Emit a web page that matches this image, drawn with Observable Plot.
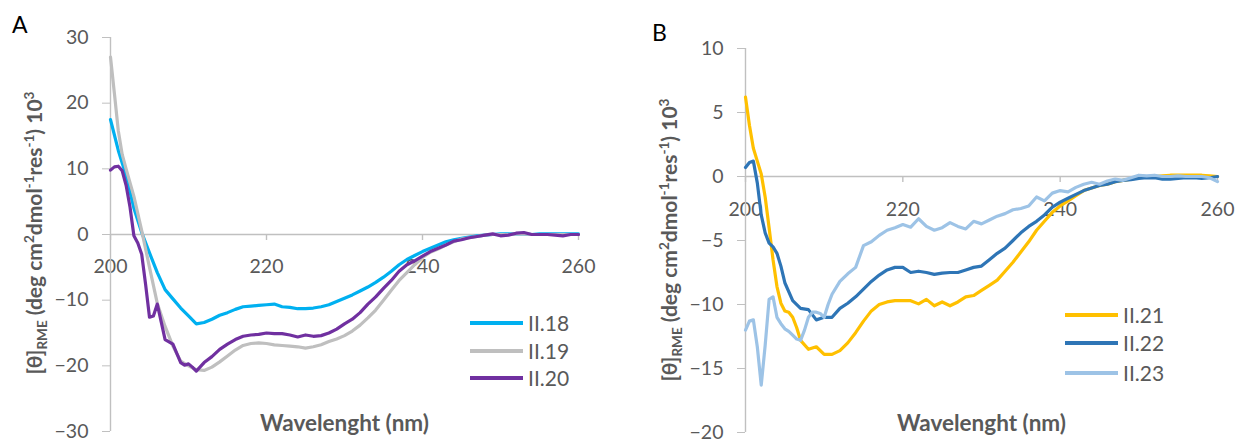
<!DOCTYPE html>
<html><head><meta charset="utf-8">
<script src="https://cdn.jsdelivr.net/npm/d3@7"></script>
<script src="https://cdn.jsdelivr.net/npm/@observablehq/plot@0.6"></script>
<style>
body{margin:0;background:#fff;}
#wrap{position:relative;width:1236px;height:441px;overflow:hidden;background:#fff;}
.panel{position:absolute;top:0;width:618px;height:441px;}
</style></head><body><div id="wrap"><div class="panel" id="pa" style="left:0"></div><div class="panel" id="pb" style="left:618px"></div></div>
<script>
// ---------- data ----------
const xTicks = [200, 220, 240, 260];
const yTicksA = [-30, -20, -10, 0, 10, 20, 30];
const yTicksB = [-20, -15, -10, -5, 0, 5, 10];
const namesA = ["II.18", "II.19", "II.20"];
const colorsA = ["#00b0f0", "#bfbfbf", "#7030a0"];
const namesB = ["II.21", "II.22", "II.23"];
const colorsB = ["#ffc000", "#2e75b6", "#9dc3e6"];
const xTitle = "Wavelenght (nm)";

const wl18 = d3.range(200, 261);
const ii18 = [17.5,12.8,9.0,4.0,0.3,-2.8,-5.8,-8.4,-9.8,-11.2,-12.4,-13.6,-13.4,-12.9,-12.3,-11.9,-11.4,-11.0,-10.9,-10.8,-10.7,-10.6,-11.0,-11.1,-11.3,-11.3,-11.2,-11.0,-10.7,-10.2,-9.7,-9.2,-8.6,-8.0,-7.3,-6.5,-5.6,-4.6,-3.8,-3.2,-2.6,-2.1,-1.6,-1.1,-0.8,-0.6,-0.4,-0.2,-0.1,0.0,0.1,0.1,0.1,0.1,0.0,0.1,0.1,0.1,0.1,0.1,0.1];

const wl19 = [200,200.5,201,201.5,202,203,204,205,206,207,208,209,210,211,212,213,214,215,216,217,218,219,220,221,222,223,224,225,226,227,228,229,230,231,232,233,234,235,236,237,238,239,240,241,242,243,244,245,246,247,248,249,250,251,252,253,254,255,256,257,258,259,260];
const ii19 = [27.0,21.5,15.8,12.2,10.0,5.8,0.6,-5.0,-10.5,-14.0,-17.0,-19.3,-20.0,-20.6,-20.7,-20.2,-19.4,-18.5,-17.6,-16.9,-16.6,-16.5,-16.6,-16.8,-16.9,-17.0,-17.1,-17.3,-17.1,-16.8,-16.3,-15.9,-15.4,-14.7,-13.8,-12.7,-11.5,-10.0,-8.5,-7.0,-5.8,-4.6,-3.5,-2.7,-2.2,-1.6,-1.1,-0.7,-0.5,-0.3,-0.1,0.0,0.0,0.0,0.1,0.1,0.0,0.0,0.0,0.0,0.0,0.0,0.0];

const wl20 = [200,200.5,201,201.5,202,202.5,203,203.5,204,204.5,205,205.5,206,206.5,207,208,209,209.5,210,210.5,211,212,213,214,215,216,217,218,219,220,221,222,223,224,225,226,227,228,229,230,231,232,233,234,235,236,237,238,239,240,241,242,243,244,245,246,247,248,249,250,251,252,253,254,255,256,257,258,259,260];
const ii20 = [9.8,10.3,10.4,9.7,7.5,4.2,-0.2,-1.3,-3.0,-7.6,-12.6,-12.4,-10.6,-13.3,-16.0,-16.7,-19.5,-19.9,-19.7,-20.2,-20.8,-19.5,-18.6,-17.5,-16.7,-16.0,-15.5,-15.3,-15.2,-15.0,-15.1,-15.1,-15.3,-15.6,-15.3,-15.5,-15.4,-15.0,-14.4,-13.6,-12.9,-11.9,-10.6,-9.5,-8.2,-7.0,-5.6,-4.6,-4.0,-3.3,-2.6,-2.1,-1.6,-1.0,-0.8,-0.5,-0.3,-0.1,0.1,-0.2,-0.1,0.2,0.3,0.0,0.0,0.0,-0.1,-0.2,0.0,0.0];

const wl21 = [200,200.5,201,201.5,202,202.5,203,203.5,204,204.5,205,205.5,206,206.5,207,208,209,210,211,212,213,214,215,216,217,218,219,220,221,222,223,224,225,226,227,228,229,230,231,232,233,234,235,236,237,238,239,240,241,242,243,244,245,246,247,248,249,250,251,252,253,254,255,256,257,258,259,260];
const ii21 = [6.2,4.0,2.2,1.2,0.2,-1.6,-4.0,-6.5,-8.6,-9.9,-10.5,-10.6,-11.0,-11.8,-12.8,-13.5,-13.3,-13.9,-13.9,-13.6,-13.0,-12.2,-11.3,-10.5,-10.0,-9.8,-9.7,-9.7,-9.7,-9.95,-9.6,-10.1,-9.8,-10.1,-9.8,-9.4,-9.3,-8.9,-8.5,-8.1,-7.4,-6.7,-5.9,-5.1,-4.2,-3.5,-2.8,-2.3,-1.9,-1.5,-1.1,-0.9,-0.7,-0.6,-0.4,-0.3,-0.2,-0.1,0.0,0.0,0.05,0.1,0.1,0.1,0.1,0.1,0.05,0.0];

const wl22 = [200,200.5,201,201.5,202,202.5,203,203.5,204,204.5,205,206,207,208,209,210,211,212,213,214,215,216,217,218,219,220,221,222,223,224,225,226,227,228,229,230,231,232,233,234,235,236,237,238,239,240,241,242,243,244,245,246,247,248,249,250,251,252,253,254,255,256,257,258,259,260];
const ii22 = [0.7,1.1,1.2,-0.5,-3.0,-4.4,-5.2,-5.5,-6.0,-7.0,-8.3,-9.7,-10.3,-10.4,-11.2,-11.0,-11.0,-10.3,-9.9,-9.4,-8.8,-8.2,-7.7,-7.3,-7.1,-7.1,-7.5,-7.4,-7.5,-7.65,-7.55,-7.5,-7.5,-7.3,-7.1,-7.0,-6.5,-6.0,-5.6,-5.0,-4.4,-3.9,-3.5,-3.0,-2.4,-2.0,-1.7,-1.4,-1.1,-0.9,-0.7,-0.6,-0.4,-0.3,-0.25,-0.15,-0.1,-0.1,-0.2,-0.2,-0.15,-0.1,-0.1,-0.15,-0.1,0.0];

const wl23 = [200,200.5,201,201.5,202,202.5,203,203.5,204,204.5,205,205.5,206,206.5,207,207.5,208,208.5,209,209.5,210,210.5,211,212,213,214,215,216,217,218,219,220,221,222,223,224,225,226,227,228,229,230,231,232,233,234,235,236,237,238,239,240,241,242,243,244,245,246,247,248,249,250,251,252,253,254,255,256,257,258,259,260];
const ii23 = [-12.0,-11.3,-11.2,-13.3,-16.3,-13.2,-9.6,-9.4,-11.0,-11.5,-11.9,-12.1,-12.4,-12.7,-12.8,-12.0,-11.0,-10.6,-10.6,-10.7,-11.0,-10.0,-9.2,-8.2,-7.6,-7.1,-5.4,-5.1,-4.6,-4.2,-4.0,-3.75,-3.96,-3.3,-3.9,-4.2,-4.0,-3.6,-3.9,-4.1,-3.5,-3.7,-3.4,-3.1,-2.9,-2.6,-2.5,-2.3,-1.6,-1.9,-1.3,-1.1,-1.2,-0.85,-0.6,-0.45,-0.6,-0.35,-0.2,-0.3,-0.1,0.1,0.05,0.1,0.0,0.0,0.05,0.0,0.0,0.0,-0.1,-0.4];

// ---------- drawing ----------
const FONT = "Lato, 'Open Sans', sans-serif";
const AXIS = "#c0c0c0";
const TXT = "#595959";

function makePanel(o) {
  const rows = o.series.flatMap(s => s.wl.map((w, i) => ({nm: w, v: s.v[i], name: s.name})));
  const svg = Plot.plot({
    width: 618, height: 441,
    marginLeft: o.ml, marginRight: o.mr, marginTop: o.mt, marginBottom: o.mb,
    style: {fontFamily: FONT, fontSize: "19.5px", color: TXT, background: "transparent", overflow: "visible"},
    x: {domain: [200, 260], axis: null},
    y: {domain: o.yDomain, ticks: o.yTicks, tickSize: 8, tickPadding: 14, label: null, line: false},
    color: {domain: o.names, range: o.colors},
    marks: [
      Plot.text(xTicks, {x: d => d, y: 0, dy: o.labelDy, text: d => String(d), fill: TXT, fontSize: 19.5}),
      Plot.ruleY([0], {stroke: AXIS, strokeWidth: 1.4}),
      Plot.ruleX([200], {stroke: AXIS, strokeWidth: 1.4}),
      Plot.ruleX(xTicks, {x: d => d, y1: 0, y2: o.tickLen, stroke: AXIS, strokeWidth: 1.4}),
      Plot.text([xTitle], {frameAnchor: "bottom", dy: o.titleDy, text: d => d, fill: TXT, fontWeight: "bold", fontSize: 22.5}),
      Plot.line(rows, {x: "nm", y: "v", z: "name", stroke: "name", strokeWidth: 3.2, strokeLinejoin: "round", strokeLinecap: "round"})
    ]
  });
  svg.querySelectorAll('[aria-label="y-axis tick"], [aria-label="y-axis"] .tick line').forEach(e => e.style.color = AXIS);
  const s = d3.select(svg);
  // y axis title with sub/superscripts
  const t = s.append("text")
    .attr("transform", `translate(${o.ylx},${o.yly}) rotate(-90)`)
    .attr("text-anchor", "middle").attr("dy", "0.35em")
    .attr("fill", TXT).attr("font-weight", "bold").attr("font-size", 21).attr("font-family", FONT);
  const parts = [["[θ]", null, 21], ["RME", 5, 13.5], [" (deg cm", -5, 21], ["2", -8, 13.5], ["dmol", 8, 21], ["-1", -8, 13.5], ["res", 8, 21], ["-1", -8, 13.5], [") 10", 8, 21], ["3", -8, 13.5]];
  for (const [str, dy, fs] of parts) {
    const sp = t.append("tspan").attr("font-size", fs).text(str);
    if (dy !== null) sp.attr("dy", dy);
  }
  // panel letter
  s.append("text").attr("x", o.lx).attr("y", o.ly).attr("text-anchor", "start")
    .attr("font-size", 23).attr("font-family", FONT).attr("fill", "#000").text(o.letter);
  // legend
  o.names.forEach((n, i) => {
    const y = o.legY[i];
    s.append("line").attr("x1", o.legX).attr("x2", o.legX + 53).attr("y1", y).attr("y2", y)
      .attr("stroke", o.colors[i]).attr("stroke-width", 4);
    s.append("text").attr("x", o.legX + 58).attr("y", y).attr("dy", "0.36em").attr("text-anchor", "start")
      .attr("font-size", 21).attr("font-family", FONT).attr("fill", TXT).text(n);
  });
  return svg;
}

document.getElementById("pa").append(makePanel({
  series: [{name: namesA[0], wl: wl18, v: ii18}, {name: namesA[1], wl: wl19, v: ii19}, {name: namesA[2], wl: wl20, v: ii20}],
  names: namesA, colors: colorsA, yDomain: [-30, 30], yTicks: yTicksA,
  ml: 110, mr: 40, mt: 37, mb: 10, labelDy: 32, tickLen: -0.91, titleDy: -1,
  ylx: 35, yly: 233, letter: "A", lx: 12, ly: 33, legX: 470, legY: [323, 351, 378]
}));
document.getElementById("pb").append(makePanel({
  series: [{name: namesB[0], wl: wl21, v: ii21}, {name: namesB[1], wl: wl22, v: ii22}, {name: namesB[2], wl: wl23, v: ii23}],
  names: namesB, colors: colorsB, yDomain: [-20, 10], yTicks: yTicksB,
  ml: 127, mr: 19, mt: 48, mb: 9, labelDy: 33, tickLen: -0.47, titleDy: -2,
  ylx: 52, yly: 240, letter: "B", lx: 34, ly: 41, legX: 447, legY: [315, 343, 373]
}));
</script></body></html>
